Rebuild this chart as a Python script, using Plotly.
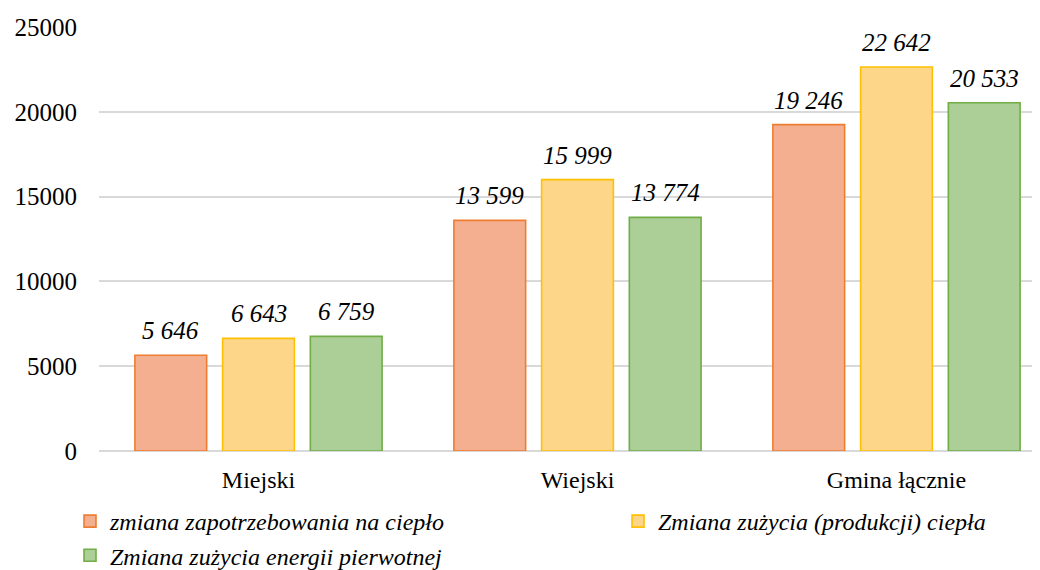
import plotly.graph_objects as go

categories = ["Miejski", "Wiejski", "Gmina łącznie"]
series_names = ["zmiana zapotrzebowania na ciepło",
                "Zmiana zużycia (produkcji) ciepła",
                "Zmiana zużycia energii pierwotnej"]
zapotrzebowanie = [5646, 13599, 19246]
zuzycie_ciepla = [6643, 15999, 22642]
energia_pierwotna = [6759, 13774, 20533]
y_ticks = [0, 5000, 10000, 15000, 20000, 25000]

fills = ["#F4AE90", "#FED68A", "#ABCF96"]
edges = ["#ED7D31", "#FFC000", "#70AD47"]
legends = ["legend", "legend2", "legend"]
FONT = "Liberation Serif, Tinos, DejaVu Serif, serif"

# the page body adds an 8px offset, so margins are set 8px smaller
W, H = 1040, 570
ml, mr, mt, mb = 91, 0, 19, 127
xrange_ = [-0.5, 2.475]
bargap, bargroupgap = 0.175, 0.182

fig = go.Figure()
all_vals = [zapotrzebowanie, zuzycie_ciepla, energia_pierwotna]
for i, vals in enumerate(all_vals):
    fig.add_trace(go.Bar(
        x=categories, y=vals, name=series_names[i],
        marker=dict(color=fills[i], line=dict(color=edges[i], width=1.6)),
        legend=legends[i],
    ))

# data labels, shifted to sit over each bar of the group
cat_px = (W - ml - mr) / (xrange_[1] - xrange_[0])
slot_px = (1 - bargap) / 3 * cat_px
for i, vals in enumerate(all_vals):
    for c, v in zip(categories, vals):
        fig.add_annotation(
            x=c, y=v, text=f"{v:,}".replace(",", " "),
            showarrow=False, yanchor="bottom", yshift=9,
            xshift=(i - 1) * slot_px,
            font=dict(family=FONT, size=25, color="#000000", style="italic"),
        )

fig.update_layout(
    width=W, height=H,
    margin=dict(l=ml, r=mr, t=mt, b=mb, autoexpand=False),
    plot_bgcolor="white", paper_bgcolor="white",
    barmode="group", bargap=bargap, bargroupgap=bargroupgap,
    font=dict(family=FONT, size=24, color="#000000"),
    xaxis=dict(type="category", range=xrange_, showgrid=False, showline=False,
               ticklabelstandoff=12, tickfont=dict(size=24), tickangle=0),
    yaxis=dict(range=[0, 25000], tickvals=y_ticks, ticktext=[str(t) for t in y_ticks],
               showgrid=True, gridcolor="#D9D9D9", gridwidth=1.5, zeroline=True,
               zerolinecolor="#D9D9D9", zerolinewidth=1.5,
               ticklabelstandoff=21, tickfont=dict(size=25)),
    legend=dict(orientation="v", xref="container", yref="container",
                x=62 / W, y=1 - 491 / H, xanchor="left", yanchor="top",
                font=dict(size=24, style="italic"), bgcolor="rgba(0,0,0,0)"),
    legend2=dict(orientation="v", xref="container", yref="container",
                 x=610 / W, y=1 - 491 / H, xanchor="left", yanchor="top",
                 font=dict(size=24, style="italic"), bgcolor="rgba(0,0,0,0)"),
    showlegend=True,
)

fig.write_html("out.html")
